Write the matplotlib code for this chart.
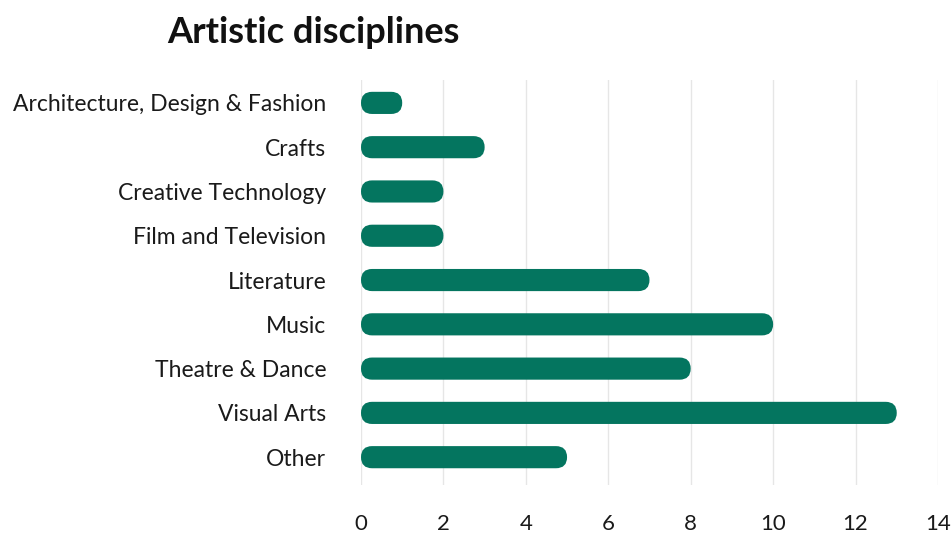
import matplotlib.pyplot as plt
from matplotlib.patches import FancyBboxPatch
import numpy as np

plt.rcParams['font.family'] = ['Lato', 'DejaVu Sans']

categories = ['Architecture, Design & Fashion', 'Crafts', 'Creative Technology',
              'Film and Television', 'Literature', 'Music', 'Theatre & Dance',
              'Visual Arts', 'Other']
counts = [1, 3, 2, 2, 7, 10, 8, 13, 5]
xticks = [0, 2, 4, 6, 8, 10, 12, 14]

bar_color = '#04755f'
bar_h = 0.5

fig = plt.figure(figsize=(9.51, 5.36), dpi=100)
ax = fig.add_axes([0.3796, 0.095, 0.6067, 0.756])
ax.set_xlim(0, 14)
ax.set_ylim(8.63, -0.52)

# pill-shaped bars: rounding radius equal to half the bar height on screen
bbox = ax.get_window_extent()
px_x = bbox.width / 14
px_y = bbox.height / 9.15
aspect = px_x / px_y
for i, v in enumerate(counts):
    r = bar_h / 2 / aspect
    p = FancyBboxPatch((0, i - bar_h / 2), v, bar_h,
                       boxstyle=f'round,pad=0,rounding_size={r}',
                       mutation_aspect=aspect,
                       facecolor=bar_color, edgecolor='none', zorder=3)
    ax.add_patch(p)

ax.set_yticks(np.arange(len(categories)))
ax.set_yticklabels(categories)
ax.set_xticks(xticks)
ax.tick_params(axis='y', length=0, pad=25, labelsize=16.5, labelcolor='#1a1a1a')
ax.tick_params(axis='x', length=0, pad=21, labelsize=16, labelcolor='#1a1a1a')
ax.grid(axis='x', color='#e6e6e6', linewidth=1, zorder=0)
for s in ax.spines.values():
    s.set_visible(False)

fig.text(0.176, 0.94, 'Artistic disciplines', fontsize=26, fontweight='bold',
         va='center', ha='left', color='#111111')

fig.savefig('out.png', dpi=100, facecolor='white')
